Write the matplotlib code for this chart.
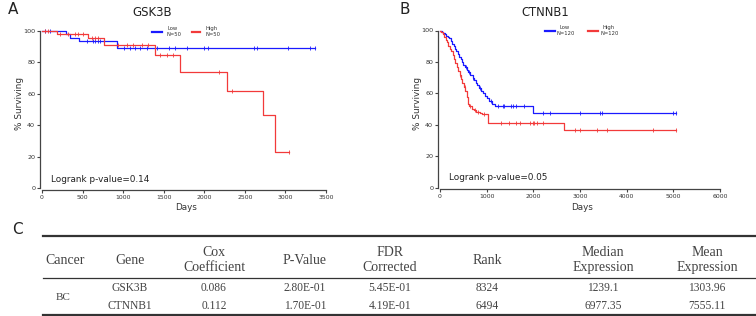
import numpy as np
import matplotlib
matplotlib.use("Agg")
import matplotlib.pyplot as plt
from matplotlib.lines import Line2D

# ---------------- data ----------------
# Panel A: GSK3B (N=50 each)
a_low_t = [0, 300, 350, 450, 920, 3370]
a_low_s = [100, 97.9, 95.7, 93.6, 89.4, 89.4]
a_low_cens = [40, 100, 560, 630, 655, 690, 715, 1012, 1086, 1147, 1209, 1291, 1415,
              1559, 1641, 1785, 1999, 2040, 2608, 2649, 3027, 3299, 3370]
a_high_t = [0, 180, 570, 770, 1395, 1700, 2280, 2720, 2875, 3040]
a_high_s = [100, 97.9, 95.6, 91.4, 85.0, 74.0, 61.8, 46.3, 23.0, 23.0]
a_high_cens = [37, 78, 222, 325, 407, 448, 510, 613, 654, 695, 942, 1045, 1127, 1230,
               1312, 1456, 1538, 1620, 2176, 2340, 3040]

# Panel B: CTNNB1 (N=120 each)
b_low_t = [0, 40, 70, 100, 130, 165, 200, 230, 260, 290, 320, 350, 380, 410, 440, 470,
           500, 540, 570, 600, 640, 700, 730, 770, 800, 840, 880, 920, 960, 1000, 1060,
           1120, 1180, 1990, 5050]
b_low_s = [100, 99.2, 98.3, 97.5, 96.7, 95.8, 95.0, 93.3, 91.7, 90.0, 88.3, 86.7, 85.0,
           83.3, 81.7, 80.0, 78.3, 76.7, 75.0, 73.3, 71.7, 70.0, 68.3, 66.7, 65.0, 63.3,
           61.7, 60.0, 58.3, 56.7, 55.0, 53.4, 51.8, 47.2, 47.2]
b_low_cens = [560, 620, 700, 850, 1100, 1250, 1340, 1380, 1530, 1570, 1620, 1800, 2214,
              2357, 3000, 3429, 3464, 5000, 5050]
b_high_t = [0, 30, 60, 90, 120, 150, 180, 210, 240, 270, 300, 330, 360, 390, 420, 450,
            480, 510, 540, 570, 600, 630, 680, 720, 780, 850, 900, 1030, 2650, 5050]
b_high_s = [100, 99.2, 97.5, 95.8, 94.2, 92.5, 90.0, 88.3, 86.7, 84.2, 81.7, 79.2, 76.7,
            74.2, 71.7, 69.2, 66.7, 64.2, 61.7, 57.5, 53.3, 51.7, 50.0, 49.2, 48.3, 47.5,
            46.7, 41.0, 36.7, 36.7]
b_high_cens = [420, 530, 650, 760, 820, 950, 1300, 1486, 1629, 1714, 1929, 1986, 2014,
               2071, 2214, 2893, 3000, 3357, 3571, 4571, 5050]

a_title, b_title = "GSK3B", "CTNNB1"
a_n, b_n = 50, 120
a_p, b_p = "0.14", "0.05"
a_xticks = [0, 500, 1000, 1500, 2000, 2500, 3000, 3500]
b_xticks = [0, 1000, 2000, 3000, 4000, 5000, 6000]
yticks = [0, 20, 40, 60, 80, 100]

tbl_headers = ["Cancer", "Gene", "Cox\nCoefficient", "P-Value", "FDR\nCorrected",
               "Rank", "Median\nExpression", "Mean\nExpression"]
tbl_cancer = "BC"
tbl_rows = [
    ["GSK3B", "0.086", "2.80E-01", "5.45E-01", "8324", "1239.1", "1303.96"],
    ["CTNNB1", "0.112", "1.70E-01", "4.19E-01", "6494", "6977.35", "7555.11"],
]

# ---------------- layout helpers ----------------
W, H = 756, 316
fig = plt.figure(figsize=(W / 100, H / 100), dpi=100)
fig.patch.set_facecolor("white")


def fx(px):
    return px / W


def fy(py):
    return 1 - py / H


BLUE = "#1a1aff"
RED = "#f23a3a"
AX = "#444444"
TXT = "#333333"


def km_axes(left, right, top, bottom, xmax, xticks):
    ax = fig.add_axes([fx(left), fy(bottom), fx(right) - fx(left), fy(top) - fy(bottom)])
    ax.set_xlim(0, xmax)
    ax.set_ylim(0, 100)
    for s in ("top", "right"):
        ax.spines[s].set_visible(False)
    for s in ("left", "bottom"):
        ax.spines[s].set_position(("outward", 1.2))
        ax.spines[s].set_color(AX)
        ax.spines[s].set_linewidth(0.9)
    ax.set_xticks(xticks)
    ax.set_yticks(yticks)
    ax.tick_params(axis="both", length=2.5, width=0.8, color=AX, labelcolor=TXT,
                   pad=1.2)
    ax.tick_params(axis="x", labelsize=4.4)
    ax.tick_params(axis="y", labelsize=4.6)
    ax.patch.set_alpha(0)
    return ax


def draw_curve(ax, t, s, cens, color):
    ax.step(t, s, where="post", color=color, lw=0.9, clip_on=False, zorder=3)
    t_arr = np.asarray(t)
    s_arr = np.asarray(s)
    idx = np.searchsorted(t_arr, cens, side="right") - 1
    idx = np.clip(idx, 0, len(s_arr) - 1)
    ax.plot(cens, s_arr[idx], ls="none", marker="|", ms=3.0, mew=0.6, color=color,
            clip_on=False, zorder=3)


# ---------------- Panel A ----------------
axA = km_axes(42, 326, 31, 188, 3500, a_xticks)
draw_curve(axA, a_low_t, a_low_s, a_low_cens, BLUE)
draw_curve(axA, a_high_t, a_high_s, a_high_cens, RED)

# ---------------- Panel B ----------------
axB = km_axes(440, 720, 30.5, 187.5, 6000, b_xticks)
draw_curve(axB, b_low_t, b_low_s, b_low_cens, BLUE)
draw_curve(axB, b_high_t, b_high_s, b_high_cens, RED)

# ---------------- panel texts ----------------
def ftext(px, py, s, **kw):
    fig.text(fx(px), fy(py), s, **kw)


ftext(13, 10, "A", fontsize=11, ha="center", va="center", color="#222222")
ftext(405, 10, "B", fontsize=11, ha="center", va="center", color="#222222")
ftext(17, 229, "C", fontsize=11, ha="center", va="center", color="#222222")

ftext(152, 12, a_title, fontsize=8.5, ha="center", va="center", color="#222222")
ftext(545, 12, b_title, fontsize=8.3, ha="center", va="center", color="#222222")

ftext(19, 103, "% Surviving", fontsize=6.4, rotation=90, ha="center", va="center",
      color=TXT)
ftext(417, 103, "% Surviving", fontsize=6.4, rotation=90, ha="center", va="center",
      color=TXT)
ftext(186, 207, "Days", fontsize=6.3, ha="center", va="center", color=TXT)
ftext(582, 207, "Days", fontsize=6.3, ha="center", va="center", color=TXT)

ftext(51, 180, "Logrank p-value=" + a_p, fontsize=6.4, ha="left", va="center",
      color="#222222")
ftext(449, 177, "Logrank p-value=" + b_p, fontsize=6.4, ha="left", va="center",
      color="#222222")


def legend_item(x0, x1, y, tx, n, color):
    fig.add_artist(Line2D([fx(x0), fx(x1)], [fy(y), fy(y)], color=color, lw=1.6))
    ftext(tx, y - 3.5, "Low" if color == BLUE else "High", fontsize=3.8, ha="center",
          va="center", color=TXT)
    ftext(tx + 1, y + 2.8, f"N={n}", fontsize=3.8, ha="center", va="center", color=TXT)


legend_item(152, 162, 31.7, 173, a_n, BLUE)
legend_item(192, 200, 31.7, 212, a_n, RED)
legend_item(545, 555, 31, 565, b_n, BLUE)
legend_item(588, 598, 31, 609, b_n, RED)

# ---------------- Table C ----------------
SERIF = ["Liberation Serif", "DejaVu Serif"]
col_x = [65, 130, 214, 305, 390, 487, 603, 707]
for lx, lw_ in ((236, 1.6), (278, 0.9), (315, 1.6)):
    fig.add_artist(Line2D([fx(43), fx(756)], [fy(lx), fy(lx)], color="#333333", lw=lw_))

for x, h in zip(col_x, tbl_headers):
    ftext(x, 260, h, fontsize=10, family=SERIF, ha="center", va="center",
          color="#444444", linespacing=1.15)

ftext(col_x[0] - 2, 298, tbl_cancer, fontsize=8, family=SERIF, ha="center",
      va="center", color="#444444")
for r, y in zip(tbl_rows, (288, 306)):
    for x, v in zip(col_x[1:], r):
        ftext(x, y, v, fontsize=8.3, family=SERIF, ha="center", va="center",
              color="#444444")

fig.savefig("out.png", dpi=100, facecolor="white")
